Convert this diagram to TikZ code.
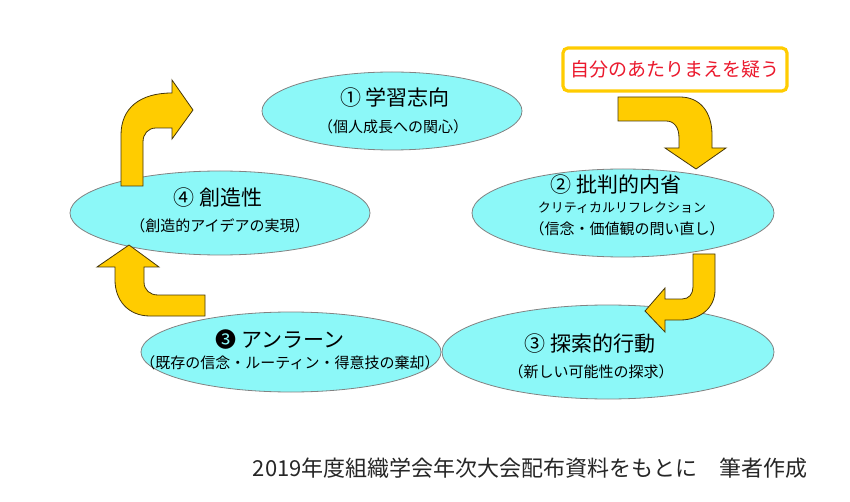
\documentclass[tikz,border=0pt]{standalone}
\usepackage{fontspec}
\setmainfont{Noto Sans CJK JP}
\usetikzlibrary{shapes.geometric}
\definecolor{ellcyan}{RGB}{140,248,248}
\definecolor{ellgray}{RGB}{130,130,130}
\definecolor{arrowyellow}{RGB}{255,204,0}
\definecolor{arrowedge}{RGB}{70,55,10}
\definecolor{labelred}{RGB}{235,25,45}
\tikzset{
  bubble/.style={ellipse, draw=ellgray, fill=ellcyan, line width=0.8pt, inner sep=0pt},
  ttl/.style={font=\fontsize{21}{24}\selectfont, inner sep=0pt},
  subt/.style={font=\fontsize{15}{18}\selectfont, inner sep=0pt},
  kata/.style={font=\fontsize{13}{16}\selectfont, inner sep=0pt},
  yarrow/.style={fill=arrowyellow, draw=arrowedge, line width=0.8pt, line join=miter},
}
\begin{document}
\begin{tikzpicture}[x=1pt,y=-1pt]
\useasboundingbox[fill=white] (0,0) rectangle (850,502);

% ellipses
\node[bubble, minimum width=260pt, minimum height=78pt] (e1) at (392,111) {};
\node[bubble, minimum width=302pt, minimum height=88pt] (e2) at (623,213) {};
\node[bubble, minimum width=332pt, minimum height=94pt] (e3) at (608,352) {};
\node[bubble, minimum width=300pt, minimum height=80pt] (e4) at (291,352) {};
\node[bubble, minimum width=300pt, minimum height=84pt] (e5) at (220,213) {};

% texts
\node[ttl] (t1) at (395,98) {① 学習志向};
\node[subt] (s1) at (393,127) {（個人成長への関心）};

\node[ttl] (t2) at (616,185) {② 批判的内省};
\node[kata] (k2) at (622,208) {クリティカルリフレクション};
\node[subt] (s2) at (627,229) {（信念・価値観の問い直し）};

\node[ttl] (t3) at (590,344) {③ 探索的行動};
\node[subt] (s3) at (591,372) {（新しい可能性の探求）};

\node[ttl] (t4) at (280,340) {❸ アンラーン};
\node[subt] (s4) at (290,363) {（既存の信念・ルーティン・得意技の棄却）};

\node[ttl] (t5) at (218,198) {④ 創造性};
\node[subt] (s5) at (220,226) {（創造的アイデアの実現）};

% red label
\node[draw=arrowyellow, line width=3.2pt, rounded corners=5pt, fill=white,
      minimum width=224pt, minimum height=43pt, inner sep=0pt,
      text=labelred, font=\fontsize{19}{22}\selectfont] (lab) at (675,69.5) {自分のあたりまえを疑う};

% yellow arrows
\draw[yarrow] (121,186) -- (121,135) .. controls (121,108) and (140,93) .. (172,93)
  -- (172,80) -- (193,110) -- (172,139) -- (172,128) -- (156,128)
  .. controls (148,128) and (143,134) .. (143,142) -- (143,186) -- cycle;
\draw[yarrow] (618,97) -- (680,97) .. controls (700,97) and (712,112) .. (712,135)
  -- (712,148) -- (726,148) -- (696,169) -- (665,148) -- (679,148) -- (679,138)
  .. controls (679,127) and (674,121) .. (666,121) -- (618,121) -- cycle;
\draw[yarrow] (693,254) -- (715,254) -- (715,290) .. controls (715,308) and (700,320) .. (680,320)
  -- (665,320) -- (665,332) -- (645,311) -- (665,288) -- (665,299) -- (682,299)
  .. controls (689,299) and (693,294) .. (693,287) -- cycle;
\draw[yarrow] (205,295) -- (205,316) -- (150,316) .. controls (128,316) and (115,300) .. (115,280)
  -- (115,267) -- (97,267) -- (129,245) -- (159,267) -- (144,267) -- (144,282)
  .. controls (144,290) and (150,295) .. (158,295) -- cycle;

% footer
\node[font=\fontsize{22}{26}\selectfont, inner sep=0pt, text=black!85] (foot) at (530,468)
  {2019年度組織学会年次大会配布資料をもとに　筆者作成};
\end{tikzpicture}
\end{document}
